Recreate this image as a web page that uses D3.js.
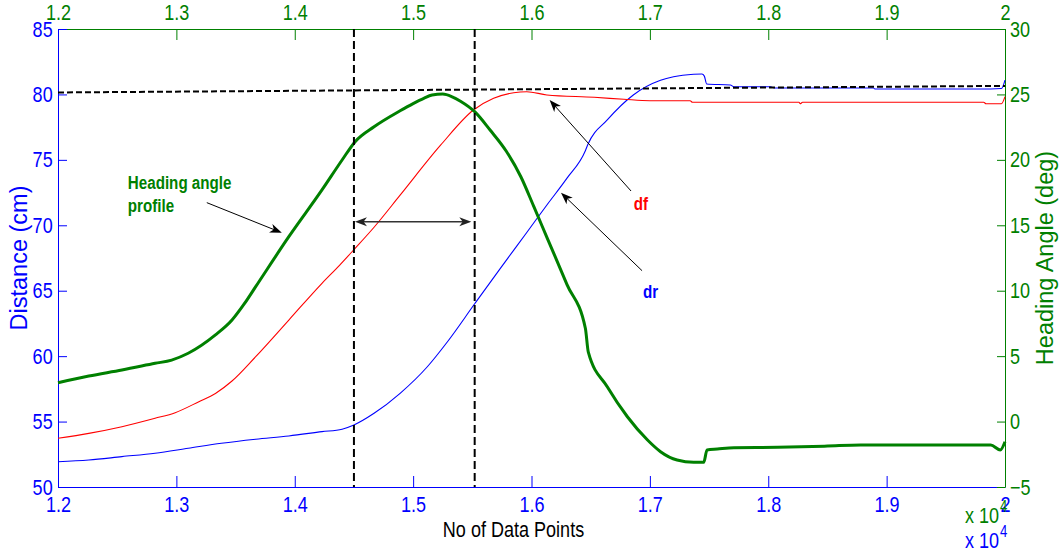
<!DOCTYPE html>
<html>
<head>
<meta charset="utf-8">
<script src="https://cdn.jsdelivr.net/npm/d3@7"></script>
<style>
  html, body { margin: 0; padding: 0; background: #fff; }
  svg { display: block; }
  text { font-family: "Liberation Sans", Arial, Helvetica, sans-serif; }
</style>
</head>
<body>
<svg id="chart" width="1062" height="554"></svg>
<script>
// Axis ticks (x in units of 10^4 data points)
const xTicks = [1.2, 1.3, 1.4, 1.5, 1.6, 1.7, 1.8, 1.9, 2.0];
const distanceTicks = [50, 55, 60, 65, 70, 75, 80, 85];
const angleTicks = [-5, 0, 5, 10, 15, 20, 25, 30];

// Heading angle profile (deg), right axis
const headingX = [1.200, 1.226, 1.254, 1.282, 1.296, 1.310, 1.333, 1.347, 1.357, 1.367, 1.395, 1.423, 1.440, 1.451, 1.467, 1.489, 1.500, 1.509, 1.516, 1.525, 1.533, 1.540, 1.552, 1.565, 1.579, 1.591, 1.602, 1.613, 1.630, 1.6455, 1.648, 1.664, 1.681, 1.698, 1.709, 1.723, 1.737, 1.7455, 1.7483, 1.757, 1.771, 1.808, 1.850, 1.878, 1.988, 1.996, 2.000];
const headingY = [2.97, 3.48, 3.94, 4.45, 4.70, 5.22, 6.62, 7.76, 8.95, 10.31, 14.13, 17.70, 19.99, 21.39, 22.53, 23.75, 24.30, 24.70, 24.95, 25.03, 24.82, 24.48, 23.68, 22.28, 20.62, 18.71, 16.42, 14.08, 10.47, 7.13, 5.30, 2.66, 0.37, -1.41, -2.30, -2.94, -3.11, -3.11, -2.17, -2.10, -2.00, -1.97, -1.87, -1.79, -1.79, -2.17, -1.54];

// df distance (cm), left axis
const dfX = [1.200, 1.226, 1.254, 1.282, 1.299, 1.319, 1.333, 1.347, 1.367, 1.395, 1.423, 1.438, 1.451, 1.467, 1.489, 1.523, 1.551, 1.568, 1.585, 1.596, 1.613, 1.653, 1.678, 1.700, 1.734, 1.736, 1.826, 1.827, 1.829, 1.982, 1.984, 1.997, 2.000];
const dfY = [53.72, 54.10, 54.61, 55.25, 55.68, 56.52, 57.15, 58.10, 59.96, 62.76, 65.57, 66.96, 68.24, 69.85, 72.30, 76.10, 78.81, 79.70, 80.13, 80.21, 79.96, 79.78, 79.63, 79.52, 79.52, 79.40, 79.40, 79.29, 79.40, 79.40, 79.29, 79.29, 79.83];

// dr distance (cm), left axis
const drX = [1.200, 1.226, 1.254, 1.282, 1.310, 1.338, 1.367, 1.395, 1.423, 1.440, 1.450, 1.467, 1.489, 1.512, 1.529, 1.552, 1.574, 1.596, 1.613, 1.630, 1.6455, 1.6475, 1.664, 1.686, 1.709, 1.720, 1.737, 1.744, 1.746, 1.748, 1.768, 1.771, 1.802, 1.805, 1.889, 1.890, 1.979, 1.997, 2.000];
const drY = [51.93, 52.06, 52.32, 52.58, 52.96, 53.34, 53.65, 53.90, 54.23, 54.42, 54.74, 55.63, 57.16, 59.19, 61.10, 64.00, 66.75, 69.45, 71.55, 73.60, 75.70, 76.15, 78.05, 79.96, 81.08, 81.35, 81.54, 81.56, 81.40, 80.80, 80.72, 80.59, 80.59, 80.49, 80.49, 80.41, 80.41, 80.45, 81.10];

// Reference lines
const refLevelX = [1.2, 2.0];
const refLevelY = [80.15, 80.65];
const markerX = [1.45, 1.552];
const spanX = [1.45, 1.55];
const spanY = 70.27;

// Annotation arrows: [tailX, tailY, tipX, tipY] in data units (left axis)
const headingArrow = [1.3257, 71.73, 1.3891, 69.43];
const dfArrow = [1.6841, 72.62, 1.6153, 79.57];
const drArrow = [1.6934, 66.53, 1.6249, 72.49];

const BLUE = "#0000ff", GREEN = "#008000", RED = "#ff0000";
const NARROW = 0.82;

const svg = d3.select("#chart");
const plotL = 58, plotR = 1005, plotT = 29, plotB = 487;

const x = d3.scaleLinear().domain([1.2, 2.0]).range([plotL, plotR]);
const yL = d3.scaleLinear().domain([50, 85]).range([plotB, plotT]);
const yR = d3.scaleLinear().domain([-5, 30]).range([plotB, plotT]);

const fmtX = d => String(+d.toFixed(1));

function styleAxis(g, color, size) {
  g.select(".domain").attr("stroke", color).attr("stroke-width", 1);
  g.selectAll(".tick line").attr("stroke", color).attr("stroke-width", 1);
  g.selectAll(".tick text")
    .attr("fill", color)
    .style("font-size", size + "px")
    .style("font-family", '"Liberation Sans", Arial, sans-serif')
    .attr("transform", `scale(${NARROW},1)`);
}

// Bottom axis (blue)
const gB = svg.append("g").attr("transform", `translate(0,${plotB})`)
  .call(d3.axisBottom(x).tickValues(xTicks).tickFormat(fmtX).tickSizeInner(-11).tickSizeOuter(0).tickPadding(9));
styleAxis(gB, BLUE, 22);

// Top axis (green)
const gT = svg.append("g").attr("transform", `translate(0,${plotT})`)
  .call(d3.axisTop(x).tickValues(xTicks).tickFormat(fmtX).tickSizeInner(-11).tickSizeOuter(0).tickPadding(9));
styleAxis(gT, GREEN, 22);

// Left axis (blue)
const gL = svg.append("g").attr("transform", `translate(${plotL},0)`)
  .call(d3.axisLeft(yL).tickValues(distanceTicks).tickFormat(d3.format("d")).tickSizeInner(-9).tickSizeOuter(0).tickPadding(6.5));
styleAxis(gL, BLUE, 22);

// Right axis (green)
const gR = svg.append("g").attr("transform", `translate(${plotR},0)`)
  .call(d3.axisRight(yR).tickValues(angleTicks).tickFormat(d3.format("d")).tickSizeInner(-8).tickSizeOuter(0).tickPadding(6));
styleAxis(gR, GREEN, 22);

// Curves
const lineL = d3.line().x(d => x(d[0])).y(d => yL(d[1])).curve(d3.curveMonotoneX);
const lineR = d3.line().x(d => x(d[0])).y(d => yR(d[1])).curve(d3.curveMonotoneX);

svg.append("path").datum(drX.map((v, i) => [v, drY[i]]))
  .attr("d", lineL).attr("fill", "none").attr("stroke", BLUE).attr("stroke-width", 1.1);
svg.append("path").datum(dfX.map((v, i) => [v, dfY[i]]))
  .attr("d", lineL).attr("fill", "none").attr("stroke", RED).attr("stroke-width", 1.1);
svg.append("path").datum(headingX.map((v, i) => [v, headingY[i]]))
  .attr("d", lineR).attr("fill", "none").attr("stroke", GREEN).attr("stroke-width", 3)
  .attr("stroke-linejoin", "round");

// Dashed reference lines
svg.append("line")
  .attr("x1", x(refLevelX[0])).attr("y1", yL(refLevelY[0]))
  .attr("x2", x(refLevelX[1])).attr("y2", yL(refLevelY[1]))
  .attr("stroke", "#000").attr("stroke-width", 2).attr("stroke-dasharray", "6,3");
svg.selectAll(".marker").data(markerX).join("line")
  .attr("x1", d => x(d)).attr("x2", d => x(d))
  .attr("y1", yL(85)).attr("y2", yL(50))
  .attr("stroke", "#000").attr("stroke-width", 2).attr("stroke-dasharray", "8,4");

// Arrow helpers
function arrowHead(g, tx, ty, ang, color, L = 12, Wd = 4.5) {
  const c = Math.cos(ang), s = Math.sin(ang);
  const pt = (a, b) => [tx + a * c - b * s, ty + a * s + b * c];
  const p = [pt(0, 0), pt(-L, -Wd), pt(-0.72 * L, 0), pt(-L, Wd)];
  g.append("path").attr("d", "M" + p.map(q => q.join(",")).join("L") + "Z").attr("fill", color);
}
function arrow(a, color = "#000") {
  const x1 = x(a[0]), y1 = yL(a[1]), x2 = x(a[2]), y2 = yL(a[3]);
  const ang = Math.atan2(y2 - y1, x2 - x1);
  const g = svg.append("g");
  g.append("line").attr("x1", x1).attr("y1", y1)
    .attr("x2", x2 - 8 * Math.cos(ang)).attr("y2", y2 - 8 * Math.sin(ang))
    .attr("stroke", color).attr("stroke-width", 1);
  arrowHead(g, x2, y2, ang, color);
}
arrow(headingArrow);
arrow(dfArrow);
arrow(drArrow);

// Double-headed span arrow between the markers
{
  const g = svg.append("g");
  const xa = x(spanX[0]) + 1, xb = x(spanX[1]) - 1, yy = yL(spanY);
  g.append("line").attr("x1", xa + 8).attr("x2", xb - 8).attr("y1", yy).attr("y2", yy)
    .attr("stroke", "#333").attr("stroke-width", 1.6);
  arrowHead(g, xb, yy, 0, "#222");
  arrowHead(g, xa, yy, Math.PI, "#222");
}

// Narrow text helper
function ntext(px, py, str, opts) {
  return svg.append("text")
    .attr("transform", `translate(${px},${py}) scale(${NARROW},1)`)
    .attr("text-anchor", opts.anchor || "start")
    .attr("fill", opts.color)
    .style("font-size", opts.size + "px")
    .style("font-weight", opts.weight || "normal")
    .text(str);
}

// Annotation labels
ntext(x(1.259), yL(72.81), "Heading angle", { color: GREEN, size: 18.5, weight: "bold" });
ntext(x(1.259), yL(71.04), "profile", { color: GREEN, size: 18.5, weight: "bold" });
ntext(x(1.6863), yL(71.17), "df", { color: RED, size: 18.5, weight: "bold" });
ntext(x(1.6942), yL(64.42), "dr", { color: BLUE, size: 18.5, weight: "bold" });

// Axis titles
ntext((plotL + plotR) / 2 - 18, 537, "No of Data Points", { color: "#000", size: 22, anchor: "middle" });
svg.append("text")
  .attr("transform", `translate(27,${(plotT + plotB) / 2}) rotate(-90)`)
  .attr("text-anchor", "middle").attr("fill", BLUE)
  .style("font-size", "23.5px").text("Distance (cm)");
svg.append("text")
  .attr("transform", `translate(1053,${(plotT + plotB) / 2}) rotate(-90)`)
  .attr("text-anchor", "middle").attr("fill", GREEN)
  .style("font-size", "23.5px").text("Heading Angle (deg)");

// Axis multipliers (x 10^4)
function multiplier(py, color) {
  ntext(965, py, "x 10", { color, size: 22 });
  svg.append("text")
    .attr("transform", `translate(1000,${py - 11.5}) scale(${NARROW},1)`)
    .attr("fill", color).style("font-size", "16px").text("4");
}
multiplier(523.3, GREEN);
multiplier(548, BLUE);
</script>
</body>
</html>
